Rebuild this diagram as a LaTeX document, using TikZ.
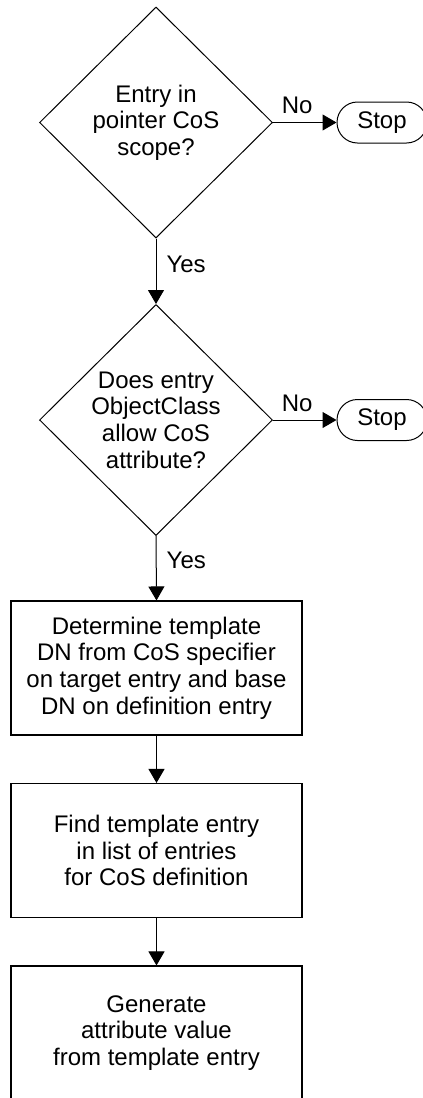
\documentclass[tikz,border=0pt]{standalone}
\usepackage{fontspec}
\setmainfont{Liberation Sans}
\usetikzlibrary{shapes.geometric,arrows.meta}

\tikzset{
  flowtext/.style={font=\fontsize{24}{26.7}\selectfont, align=center},
  decision/.style={flowtext, draw, shape=diamond, aspect=1, inner sep=-3pt,
                   minimum width=233pt, minimum height=231pt, line width=1pt},
  process/.style={flowtext, draw, rectangle, minimum width=291pt,
                  minimum height=134pt, inner sep=0pt, line width=1.1pt},
  terminal/.style={flowtext, draw, rectangle, rounded corners=20.5pt,
                   minimum width=90pt, minimum height=41pt, inner sep=0pt, line width=1pt},
  flow/.style={line width=1pt, -{Triangle[length=14pt,width=16pt]}},
  branch/.style={font=\fontsize{24}{26.7}\selectfont, inner sep=0pt}
}

\begin{document}
\begin{tikzpicture}[x=1pt, y=-1pt]
  \useasboundingbox (0,0) rectangle (423,1098);
  \fill[white] (0,0) rectangle (423,1098);
  \clip (0,0) rectangle (423,1098);

  % decisions
  \node[decision] (scope) at (156,122.5) {Entry in\\pointer CoS\\scope?};
  \node[decision] (allow) at (156,420) {Does entry\\ObjectClass\\allow CoS\\attribute?};

  % terminals
  \node[terminal] (stopA) at (382,122.5) {Stop};
  \node[terminal] (stopB) at (382,420) {Stop};

  % processes
  \node[process] (tmpl) at (156.5,668) {Determine template\\DN from CoS specifier\\on target entry and base\\DN on definition entry};
  \node[process] (find) at (156.5,850.5) {Find template entry\\in list of entries\\for CoS definition};
  \node[process] (gen) at (156.5,1033) {Generate\\attribute value\\from template entry};

  % connectors
  \draw[flow] (scope.east) -- (stopA.west)
    node[branch, pos=0.38, anchor=south, yshift=8pt] {No};
  \draw[flow] (scope.south) -- (allow.north)
    node[branch, pos=0.39, anchor=west, xshift=10pt] {Yes};
  \draw[flow] (allow.east) -- (stopB.west)
    node[branch, pos=0.38, anchor=south, yshift=8pt] {No};
  \draw[flow] (allow.south) -- (tmpl.north)
    node[branch, pos=0.38, anchor=west, xshift=10pt] {Yes};
  \draw[flow] (tmpl.south) -- (find.north);
  \draw[flow] (find.south) -- (gen.north);
\end{tikzpicture}
\end{document}
